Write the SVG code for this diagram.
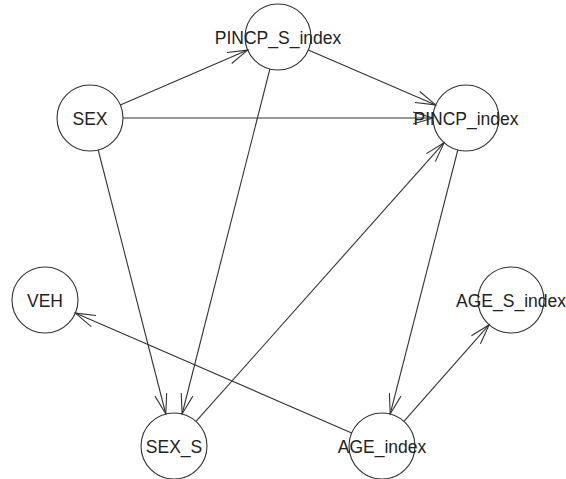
<svg xmlns="http://www.w3.org/2000/svg" width="566" height="479" viewBox="0 0 566 479">
  <style>
    .node circle { fill: none; stroke: #333; stroke-width: 1.1; }
    .node text { font-family: "Liberation Sans", Arial, sans-serif; font-size: 17.5px; fill: #222; text-anchor: middle; }
    #edges line { stroke: #333; stroke-width: 1.1; marker-end: url(#arrow); }
  </style>
  <defs>
    <marker id="arrow" markerUnits="userSpaceOnUse" markerWidth="30" markerHeight="20" viewBox="-22 -10 24 20" refX="0" refY="0" orient="auto">
      <path d="M-20,-6 L0,0 L-20,6" fill="none" stroke="#333" stroke-width="1.1"/>
    </marker>
  </defs>
  <rect width="566" height="479" fill="#fff"/>

  <g id="edges">
    <line x1="120.3" y1="104.9" x2="247.7" y2="50.1"/>
    <line x1="123" y1="118" x2="433" y2="118"/>
    <line x1="98.2" y1="150.0" x2="165.8" y2="414.0"/>
    <line x1="308.3" y1="50.1" x2="435.7" y2="104.9"/>
    <line x1="269.9" y1="69.0" x2="182.1" y2="414.0"/>
    <line x1="196.0" y1="421.4" x2="444.1" y2="142.7"/>
    <line x1="457.8" y1="150.0" x2="390.2" y2="414.0"/>
    <line x1="351.7" y1="432.9" x2="75.3" y2="313.1"/>
    <line x1="403.9" y1="421.3" x2="489.2" y2="324.7"/>
  </g>

  <g id="PINCP_S_index" class="node">
    <circle cx="278" cy="37" r="33"/>
    <text x="278" y="43.5">PINCP_S_index</text>
  </g>
  <g id="SEX" class="node">
    <circle cx="90" cy="118" r="33"/>
    <text x="90" y="124.5">SEX</text>
  </g>
  <g id="PINCP_index" class="node">
    <circle cx="466" cy="118" r="33"/>
    <text x="466" y="124.5">PINCP_index</text>
  </g>
  <g id="VEH" class="node">
    <circle cx="45" cy="300" r="33"/>
    <text x="45" y="306.5">VEH</text>
  </g>
  <g id="AGE_S_index" class="node">
    <circle cx="511" cy="300" r="33"/>
    <text x="511" y="306.5">AGE_S_index</text>
  </g>
  <g id="SEX_S" class="node">
    <circle cx="174" cy="446" r="33"/>
    <text x="174" y="452.5">SEX_S</text>
  </g>
  <g id="AGE_index" class="node">
    <circle cx="382" cy="446" r="33"/>
    <text x="382" y="452.5">AGE_index</text>
  </g>
</svg>
